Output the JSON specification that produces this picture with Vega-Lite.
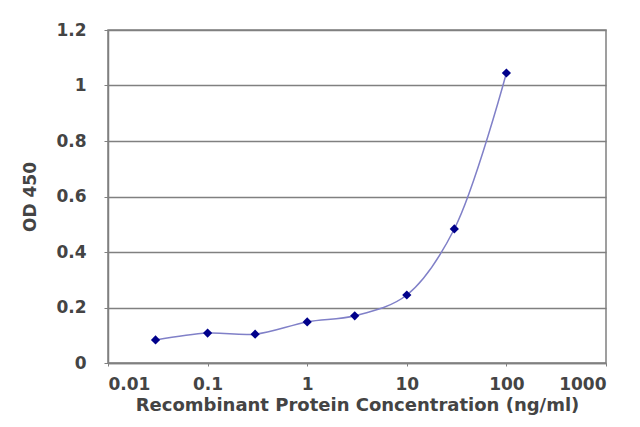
{
  "$schema": "https://vega.github.io/schema/vega-lite/v6.json",
  "autosize": {"type": "none"},
  "padding": {"left": 108, "top": 30, "right": 34, "bottom": 64},
  "width": 498,
  "height": 333,
  "background": "white",
  "config": {
    "view": {"stroke": "#808080", "strokeWidth": 1.5},
    "axis": {
      "labelFont": "DejaVu Sans",
      "labelFontSize": 17,
      "labelFontWeight": "bold",
      "labelColor": "#444444",
      "titleFont": "DejaVu Sans",
      "titleFontSize": 18,
      "titleFontWeight": "bold",
      "titleColor": "#444444",
      "domainColor": "#808080",
      "domainWidth": 1.5,
      "tickColor": "#808080",
      "gridColor": "#808080",
      "gridWidth": 1.5
    }
  },
  "data": {
    "values": [
      {"conc": 0.03, "od": 0.083},
      {"conc": 0.1, "od": 0.108},
      {"conc": 0.3, "od": 0.104},
      {"conc": 1, "od": 0.148},
      {"conc": 3, "od": 0.17},
      {"conc": 10, "od": 0.245},
      {"conc": 30, "od": 0.483},
      {"conc": 100, "od": 1.045}
    ]
  },
  "encoding": {
    "x": {
      "field": "conc",
      "type": "quantitative",
      "scale": {"type": "log", "domain": [0.01, 1000], "nice": false},
      "axis": {
        "values": [0.01, 0.1, 1, 10, 100, 1000],
        "format": "~g",
        "grid": false,
        "tickSize": 3,
        "labelPadding": 10,
        "title": "Recombinant Protein Concentration (ng/ml)",
        "titlePadding": 4
      }
    },
    "y": {
      "field": "od",
      "type": "quantitative",
      "scale": {"domain": [0, 1.2], "nice": false},
      "axis": {
        "values": [0, 0.2, 0.4, 0.6, 0.8, 1, 1.2],
        "format": "~g",
        "tickSize": 4,
        "labelPadding": 18,
        "title": "OD 450",
        "titleFontSize": 17,
        "titlePadding": 16
      }
    }
  },
  "layer": [
    {
      "mark": {"type": "line", "interpolate": "catmull-rom", "color": "#8080c8", "strokeWidth": 1.5}
    },
    {
      "mark": {"type": "point", "shape": "diamond", "filled": true, "color": "#00008b", "opacity": 1, "size": 85}
    }
  ]
}
